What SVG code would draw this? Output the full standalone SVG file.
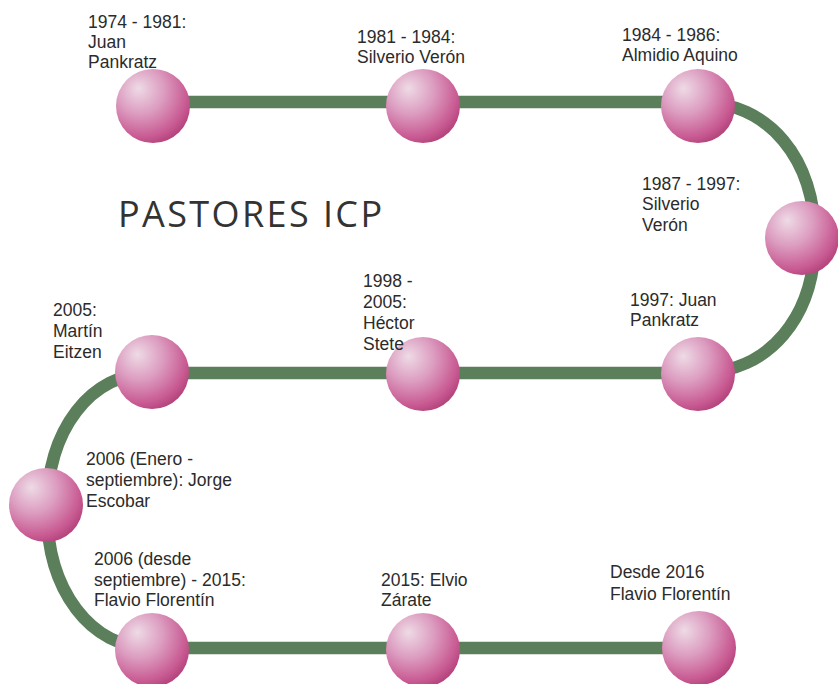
<svg xmlns="http://www.w3.org/2000/svg" width="838" height="684" viewBox="0 0 838 684">
  <defs>
    <radialGradient id="sphere" cx="0.36" cy="0.32" r="0.72" fx="0.3" fy="0.26">
      <stop offset="0" stop-color="#eedbe6"/>
      <stop offset="0.45" stop-color="#dc9cc0"/>
      <stop offset="0.85" stop-color="#c85a92"/>
      <stop offset="1" stop-color="#b4447c"/>
    </radialGradient>
    <filter id="soft" x="-20%" y="-20%" width="140%" height="140%">
      <feGaussianBlur stdDeviation="0.7"/>
    </filter>
  </defs>
  <style>
    .lbl { font-family: "Liberation Sans", Arial, sans-serif; font-size: 17.5px; fill: #2b2b2b; }
    .title { font-family: "Open Sans", "Liberation Sans", sans-serif; font-size: 36px; font-weight: 400; fill: #333333; letter-spacing: 2.4px; }
    .track { fill: none; stroke: #5b7e5b; stroke-width: 12.5; stroke-linecap: butt; }
    .ball { fill: url(#sphere); filter: url(#soft); }
  </style>
  <rect width="838" height="684" fill="#ffffff"/>

  <g id="connectors">
    <path class="track" d="M153,102 H698 C770,102 815,160 815,238 C815,316 770,373 698,373 H152 C90,373 47,430 47,510 C47,590 90,648 152,648 H699"/>
  </g>

  <text class="title" x="118" y="227">PASTORES ICP</text>

  <g id="n1"><circle class="ball" cx="153" cy="106" r="37"/>
    <text class="lbl" x="88" y="28">1974 - 1981:<tspan x="88" dy="20">Juan</tspan><tspan x="88" dy="20">Pankratz</tspan></text>
  </g>
  <g id="n2"><circle class="ball" cx="423" cy="106" r="37"/>
    <text class="lbl" x="357" y="43">1981 - 1984:<tspan x="357" dy="20">Silverio Verón</tspan></text>
  </g>
  <g id="n3"><circle class="ball" cx="698" cy="106" r="37"/>
    <text class="lbl" x="622" y="41">1984 - 1986:<tspan x="622" dy="20">Almidio Aquino</tspan></text>
  </g>
  <g id="n4"><circle class="ball" cx="802" cy="238" r="37"/>
    <text class="lbl" x="642" y="190">1987 - 1997:<tspan x="642" dy="20">Silverio</tspan><tspan x="642" dy="21">Verón</tspan></text>
  </g>
  <g id="n5"><circle class="ball" cx="698" cy="374" r="37"/>
    <text class="lbl" x="630" y="306">1997: Juan<tspan x="630" dy="20">Pankratz</tspan></text>
  </g>
  <g id="n6"><circle class="ball" cx="423" cy="374" r="37"/>
    <text class="lbl" x="363" y="287">1998 -<tspan x="363" dy="21">2005:</tspan><tspan x="363" dy="21">Héctor</tspan><tspan x="363" dy="21">Stete</tspan></text>
  </g>
  <g id="n7"><circle class="ball" cx="152" cy="372" r="37"/>
    <text class="lbl" x="53" y="316">2005:<tspan x="53" dy="21">Martín</tspan><tspan x="53" dy="21">Eitzen</tspan></text>
  </g>
  <g id="n8"><circle class="ball" cx="46" cy="505" r="37"/>
    <text class="lbl" x="86" y="465">2006 (Enero -<tspan x="86" dy="21">septiembre): Jorge</tspan><tspan x="86" dy="21">Escobar</tspan></text>
  </g>
  <g id="n9"><circle class="ball" cx="152" cy="650" r="37"/>
    <text class="lbl" x="94" y="565">2006 (desde<tspan x="94" dy="21">septiembre) - 2015:</tspan><tspan x="94" dy="20">Flavio Florentín</tspan></text>
  </g>
  <g id="n10"><circle class="ball" cx="423" cy="650" r="37"/>
    <text class="lbl" x="381" y="586">2015: Elvio<tspan x="381" dy="20">Zárate</tspan></text>
  </g>
  <g id="n11"><circle class="ball" cx="699" cy="648" r="37"/>
    <text class="lbl" x="610" y="578">Desde 2016<tspan x="610" dy="22">Flavio Florentín</tspan></text>
  </g>
</svg>
